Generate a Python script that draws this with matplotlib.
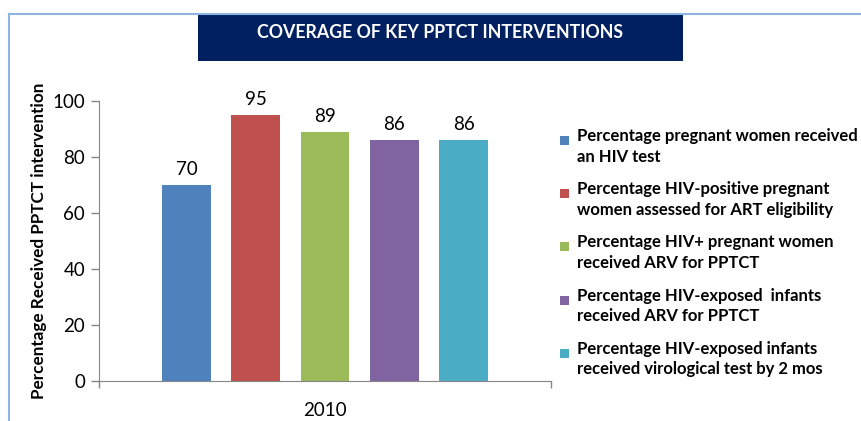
import matplotlib.pyplot as plt
from matplotlib.patches import Rectangle, Patch
from matplotlib.legend_handler import HandlerPatch

plt.rcParams['font.family'] = ['Lato', 'DejaVu Sans']

year = '2010'
series = ['Percentage pregnant women received\nan HIV test',
          'Percentage HIV-positive pregnant\nwomen assessed for ART eligibility',
          'Percentage HIV+ pregnant women\nreceived ARV for PPTCT',
          'Percentage HIV-exposed  infants\nreceived ARV for PPTCT',
          'Percentage HIV-exposed infants\nreceived virological test by 2 mos']
values = [70, 95, 89, 86, 86]
colors = ['#4F81BD', '#C0504D', '#9BBB59', '#8064A2', '#4BACC6']

fig = plt.figure(figsize=(8.62, 4.21), dpi=100)

# outer frame (top and left edge visible)
fig.add_artist(plt.Line2D([9/862, 1], [1-14/421, 1-14/421], color='#8EB4E3', lw=1.5))
fig.add_artist(plt.Line2D([9/862, 9/862], [0, 1-14/421], color='#8EB4E3', lw=1.5))

# title box
fig.add_artist(Rectangle((198/862, 1-61/421), 485/862, 47/421, transform=fig.transFigure,
                         facecolor='#002060', edgecolor='none'))
fig.text(440/862, 1-33/421, 'COVERAGE OF KEY PPTCT INTERVENTIONS', color='white',
         fontsize=12.8, fontweight='bold', ha='center', va='center')

ax = fig.add_axes([99/862, 1-381/421, 452/862, 280/421])
step = 0.1533
width = 0.108
n = len(values)
handles = []
for i, (v, c, s) in enumerate(zip(values, colors, series)):
    x = (i - (n-1)/2) * step
    ax.bar(x, v, width=width, color=c)
    ax.text(x, v + 2.5, str(v), ha='center', va='bottom', fontsize=13.5)
    handles.append(Patch(facecolor=c, label=s))

ax.set_xlim(-0.5, 0.5)
ax.set_ylim(0, 100)
ax.set_yticks(range(0, 101, 20))
ax.tick_params(axis='y', labelsize=13.5, length=6, color='#868686', width=1, pad=4)
ax.set_xticks([0])
ax.set_xticklabels([year])
ax.set_xticks([-0.5, 0.5], minor=True)
ax.tick_params(axis='x', which='major', length=0, labelsize=13.5, pad=15)
ax.tick_params(axis='x', which='minor', length=5, color='#868686', width=1)
for sp in ['top', 'right']:
    ax.spines[sp].set_visible(False)
ax.spines['left'].set_color('#868686')
ax.spines['bottom'].set_color('#868686')
ax.set_ylabel('Percentage Received PPTCT intervention', fontsize=12.3, fontweight='bold', labelpad=4)


# square marker sitting next to the first line of each entry
def top_square(legend, orig_handle, xdescent, ydescent, width, height, fontsize):
    s = width
    return Rectangle((-xdescent, -ydescent + height - s - 2), s, s)


leg = fig.legend(handles=handles, loc='upper left', bbox_to_anchor=(545/862, 1-113/421),
                 frameon=False, handlelength=0.55, handleheight=2.3, handletextpad=0.45,
                 labelspacing=1.0, prop={'size': 12, 'weight': 'bold'},
                 handler_map={Patch: HandlerPatch(patch_func=top_square)})
for t in leg.get_texts():
    t.set_linespacing(1.35)

plt.savefig('out.png', dpi=100)
